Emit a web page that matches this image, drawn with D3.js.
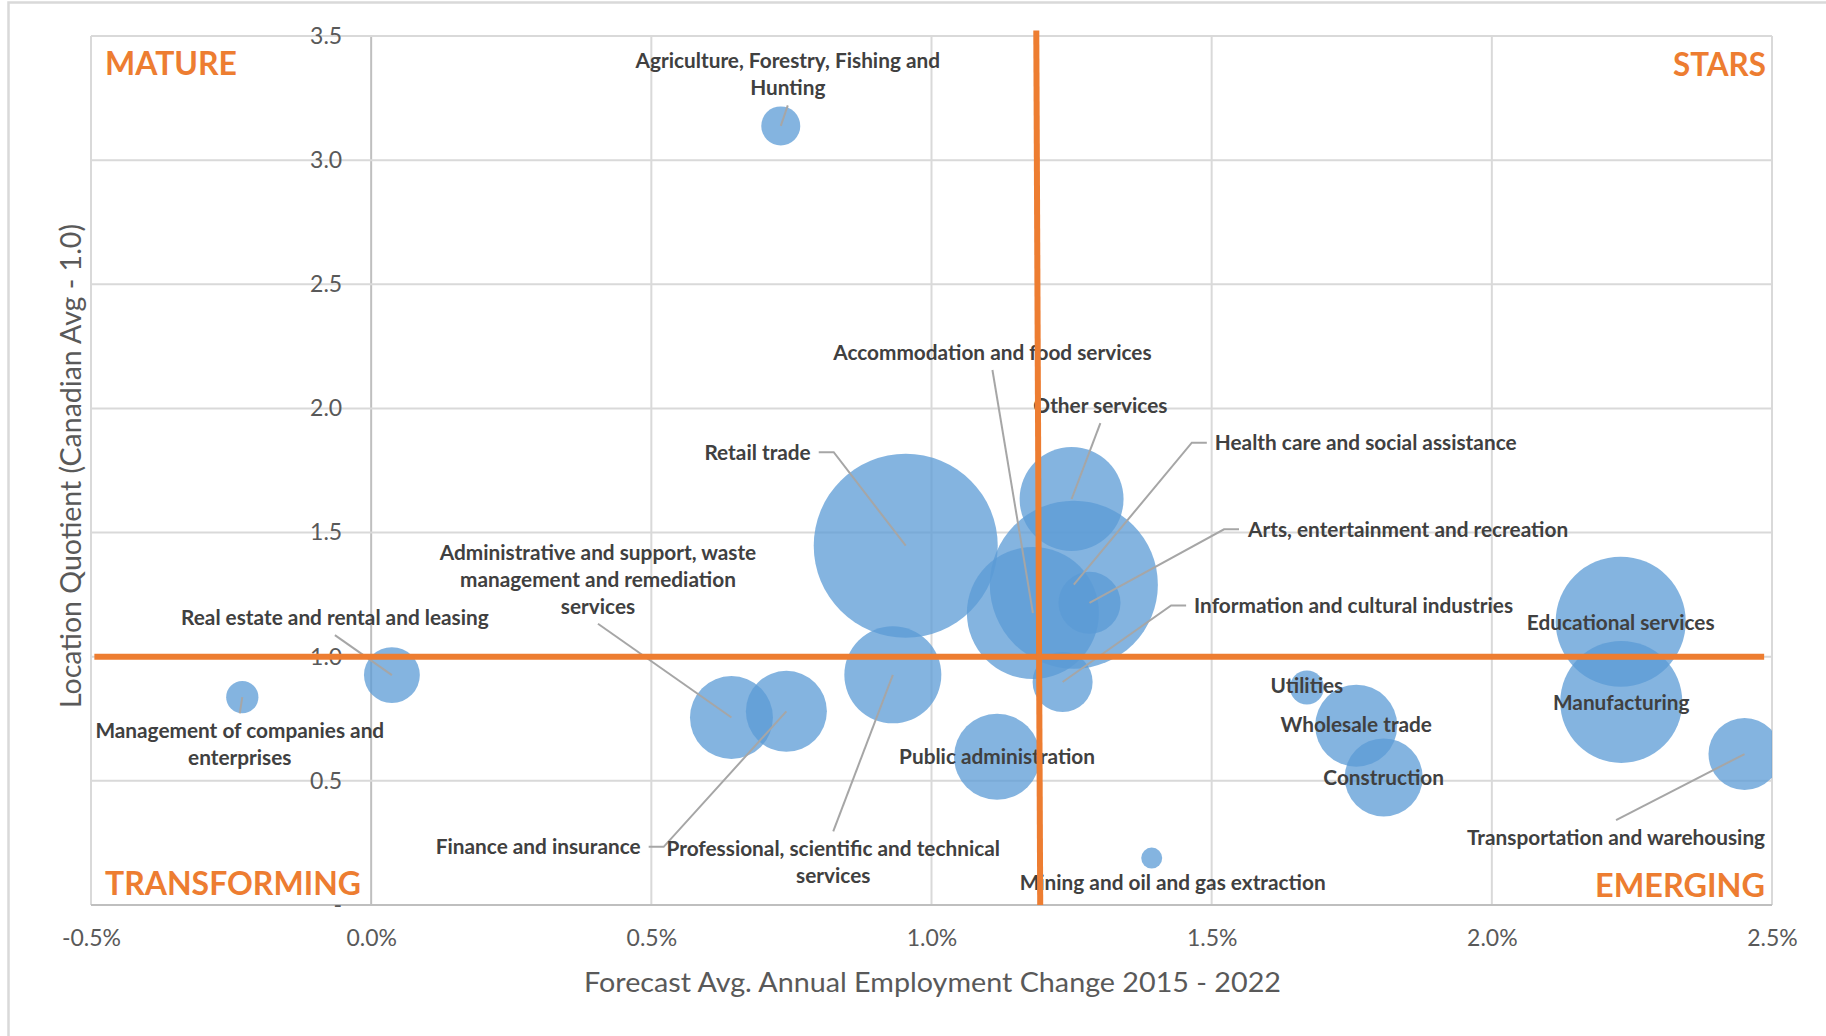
<!DOCTYPE html>
<html>
<head>
<meta charset="utf-8">
<script src="https://cdn.jsdelivr.net/npm/d3@7"></script>
<style>
  html, body { margin: 0; padding: 0; background: #ffffff; }
  svg { display: block; }
</style>
</head>
<body>
<svg id="chart" width="1826" height="1036"></svg>
<script>
// ---- Data -------------------------------------------------------------
const industries = [
  "Agriculture, Forestry, Fishing and Hunting",
  "Management of companies and enterprises",
  "Real estate and rental and leasing",
  "Retail trade",
  "Other services",
  "Health care and social assistance",
  "Accommodation and food services",
  "Arts, entertainment and recreation",
  "Information and cultural industries",
  "Professional, scientific and technical services",
  "Administrative and support, waste management and remediation services",
  "Finance and insurance",
  "Public administration",
  "Mining and oil and gas extraction",
  "Utilities",
  "Wholesale trade",
  "Construction",
  "Educational services",
  "Manufacturing",
  "Transportation and warehousing"
];
// Forecast average annual employment change 2015-2022 (%)
const employmentChange = [0.731, -0.230, 0.037, 0.954, 1.250, 1.254, 1.181, 1.282, 1.234, 0.931,
                          0.643, 0.741, 1.117, 1.393, 1.670, 1.758, 1.807, 2.230, 2.231, 2.451];
// Location quotient (Canadian average = 1.0)
const locationQuotient = [3.138, 0.837, 0.926, 1.447, 1.635, 1.290, 1.176, 1.217, 0.898, 0.927,
                          0.755, 0.780, 0.597, 0.189, 0.876, 0.722, 0.514, 1.141, 0.818, 0.608];
// Bubble size: employment (relative units)
const employment = [38, 26, 78, 846, 270, 706, 436, 96, 90, 235,
                    172, 164, 185, 11, 29, 168, 152, 423, 372, 130];

const xTickValues = [-0.5, 0, 0.5, 1.0, 1.5, 2.0, 2.5];
const yTickValues = [0, 0.5, 1.0, 1.5, 2.0, 2.5, 3.0, 3.5];

// Quadrant dividers: Canadian average LQ and average employment growth (top, bottom)
const averageLQ = 1.0;
const averageGrowth = [1.187, 1.194];

const quadrantNames = ["MATURE", "STARS", "TRANSFORMING", "EMERGING"];
const xTitle = "Forecast Avg. Annual Employment Change 2015 - 2022";
const yTitle = "Location Quotient (Canadian Avg - 1.0)";

// ---- Label layout (offsets from the bubble centre, in px) --------------
const labelLines = {
  0: ["Agriculture, Forestry, Fishing and", "Hunting"],
  1: ["Management of companies and", "enterprises"],
  9: ["Professional, scientific and technical", "services"],
  10: ["Administrative and support, waste", "management and remediation", "services"]
};
const labelLayout = [
  { dx: 7,      dy: -51.5,  anchor: "middle", leader: "bottom" },
  { dx: -2.5,   dy: 47.2,   anchor: "middle", leader: "top" },
  { dx: -57,    dy: -57.5,  anchor: "middle", leader: "bottom" },
  { dx: -95,    dy: -93.5,  anchor: "end",    leader: "right" },
  { dx: 28.8,   dy: -93.5,  anchor: "middle", leader: "bottom" },
  { dx: 141,    dy: -142,   anchor: "start",  leader: "left" },
  { dx: -40.5,  dy: -260.5, anchor: "middle", leader: "bottom" },
  { dx: 158.5,  dy: -73.5,  anchor: "start",  leader: "left" },
  { dx: 131.5,  dy: -76.5,  anchor: "start",  leader: "left" },
  { dx: -59.6,  dy: 187.5,  anchor: "middle", leader: "top" },
  { dx: -133.5, dy: -138.3, anchor: "middle", leader: "bottom" },
  { dx: -145.7, dy: 135.5,  anchor: "end",    leader: "right" },
  { dx: 0,      dy: 0,      anchor: "middle", leader: "none" },
  { dx: 21,     dy: 24.5,   anchor: "middle", leader: "none" },
  { dx: 0,      dy: -2,     anchor: "middle", leader: "none" },
  { dx: 0,      dy: -1,     anchor: "middle", leader: "none" },
  { dx: 0,      dy: 0,      anchor: "middle", leader: "none" },
  { dx: 0,      dy: 1,      anchor: "middle", leader: "none" },
  { dx: 0,      dy: 1,      anchor: "middle", leader: "none" },
  { dx: -128.5, dy: 83.5,   anchor: "middle", leader: "top" }
];

// ---- Geometry -----------------------------------------------------------
const W = 1826, H = 1036;
const plot = { left: 91, right: 1772, top: 36, bottom: 905 };

const svg = d3.select("#chart");
const x = d3.scaleLinear().domain([-0.5, 2.5]).range([plot.left, plot.right]);
const y = d3.scaleLinear().domain([0, 3.5]).range([plot.bottom, plot.top]);
const r = d3.scaleSqrt().domain([0, 846]).range([0, 92]);

const GRID = "#d9d9d9", AXIS = "#bfbfbf", TEXT = "#595959", LABEL = "#404040";
const ORANGE = "#ED7D31", BLUE = "#5B9BD5";

// number formats with a plain hyphen for negatives
const locale = d3.formatLocale({ decimal: ".", thousands: ",", grouping: [3], currency: ["$", ""], minus: "-" });
const fmt1 = locale.format(".1f");

// outer chart frame
svg.append("rect")
  .attr("x", 8.5).attr("y", 2.5).attr("width", W + 20).attr("height", H + 20)
  .attr("fill", "#ffffff").attr("stroke", GRID).attr("stroke-width", 2.5);

// gridlines
const grid = svg.append("g");
grid.selectAll("line.v").data(xTickValues).join("line")
  .attr("x1", d => x(d)).attr("x2", d => x(d))
  .attr("y1", plot.top).attr("y2", plot.bottom)
  .attr("stroke", d => d === 0 ? AXIS : GRID).attr("stroke-width", 2);
grid.selectAll("line.h").data(yTickValues).join("line")
  .attr("x1", plot.left).attr("x2", plot.right)
  .attr("y1", d => y(d)).attr("y2", d => y(d))
  .attr("stroke", d => d === 0 ? AXIS : GRID).attr("stroke-width", 2);

// axes (labels only)
const fmtY = v => v === 0 ? "-" : fmt1(v);
const yAxis = svg.append("g")
  .attr("transform", `translate(${x(0)},0)`)
  .call(d3.axisLeft(y).tickValues(yTickValues).tickSize(0).tickPadding(29).tickFormat(fmtY));
const xAxis = svg.append("g")
  .attr("transform", `translate(0,${plot.bottom})`)
  .call(d3.axisBottom(x).tickValues(xTickValues).tickSize(0).tickPadding(25)
    .tickFormat(v => fmt1(v) + "%"));
[yAxis, xAxis].forEach(a => {
  a.select(".domain").remove();
  a.selectAll("text").attr("fill", TEXT)
    .style("font-family", "Lato, 'Open Sans', sans-serif").style("font-size", "23px");
});

// axis titles
svg.append("text")
  .attr("x", (x(-0.5) + x(2.5)) / 2 + 1).attr("y", 992)
  .attr("text-anchor", "middle").attr("fill", TEXT)
  .attr("textLength", 697).attr("lengthAdjust", "spacingAndGlyphs")
  .style("font-family", "Lato, 'Open Sans', sans-serif").style("font-size", "27px")
  .text(xTitle);
svg.append("text")
  .attr("transform", `translate(81,466) rotate(-90)`)
  .attr("text-anchor", "middle").attr("fill", TEXT)
  .attr("textLength", 484).attr("lengthAdjust", "spacingAndGlyphs")
  .style("font-family", "Lato, 'Open Sans', sans-serif").style("font-size", "29px")
  .text(yTitle);

// bubbles
const points = industries.map((name, i) => ({
  name, i,
  cx: x(employmentChange[i]), cy: y(locationQuotient[i]), rr: r(employment[i])
}));

svg.append("clipPath").attr("id", "plotClip")
  .append("rect").attr("x", plot.left).attr("y", plot.top)
  .attr("width", plot.right - plot.left).attr("height", plot.bottom - plot.top);

svg.append("g").attr("clip-path", "url(#plotClip)")
  .selectAll("circle").data(points).join("circle")
  .attr("cx", d => d.cx).attr("cy", d => d.cy).attr("r", d => d.rr)
  .attr("fill", BLUE).attr("fill-opacity", 0.75);

// data labels with leader lines
const FS = 20.8, LH = 27, CAP = 0.72 * FS;
const leaders = svg.append("g");
const labels = svg.append("g")
  .style("font-family", "Lato, 'Open Sans', sans-serif")
  .style("font-size", FS + "px").style("font-weight", "bold");

points.forEach(p => {
  const L = labelLayout[p.i];
  const lines = labelLines[p.i] || [p.name];
  const lx = p.cx + L.dx, ly = p.cy + L.dy;
  const firstBase = ly - (lines.length - 1) * LH / 2 + CAP / 2;
  const t = labels.append("text")
    .attr("text-anchor", L.anchor).attr("fill", LABEL);
  lines.forEach((s, k) => {
    t.append("tspan").attr("x", lx).attr("y", firstBase + k * LH).text(s);
  });
  const lastBase = firstBase + (lines.length - 1) * LH;
  let pts = null;
  if (L.leader === "bottom") pts = [[lx, lastBase + 10], [p.cx, p.cy]];
  else if (L.leader === "top") pts = [[lx, firstBase - CAP - 10], [p.cx, p.cy]];
  else if (L.leader === "left" || L.leader === "right") {
    const bb = t.node().getBBox();
    const ex = L.leader === "left" ? bb.x - 8 : bb.x + bb.width + 8;
    const sx = L.leader === "left" ? ex - 15 : ex + 15;
    pts = [[ex, ly], [sx, ly], [p.cx, p.cy]];
  }
  if (pts) {
    leaders.append("path")
      .attr("d", d3.line()(pts))
      .attr("fill", "none").attr("stroke", "#a6a6a6").attr("stroke-width", 2);
  }
});

// quadrant names
const quadrantLayout = [
  { x: plot.left + 14,  y: plot.top + 39,     anchor: "start", width: 132 },
  { x: plot.right - 6,  y: plot.top + 40,     anchor: "end",   width: 93 },
  { x: plot.left + 14,  y: plot.bottom - 10,  anchor: "start", width: 256 },
  { x: plot.right - 7,  y: plot.bottom - 8,   anchor: "end",   width: 170 }
];
svg.append("g").selectAll("text").data(quadrantNames).join("text")
  .attr("x", (d, i) => quadrantLayout[i].x).attr("y", (d, i) => quadrantLayout[i].y)
  .attr("text-anchor", (d, i) => quadrantLayout[i].anchor)
  .attr("textLength", (d, i) => quadrantLayout[i].width)
  .attr("lengthAdjust", "spacingAndGlyphs")
  .attr("fill", ORANGE)
  .style("font-family", "Lato, 'Open Sans', sans-serif")
  .style("font-size", "32px").style("font-weight", "bold")
  .text(d => d);

// quadrant dividers drawn on top
svg.append("line")
  .attr("x1", x(-0.494)).attr("x2", x(2.486))
  .attr("y1", y(averageLQ)).attr("y2", y(averageLQ))
  .attr("stroke", ORANGE).attr("stroke-width", 6);
svg.append("line")
  .attr("x1", x(averageGrowth[0])).attr("x2", x(averageGrowth[1]))
  .attr("y1", y(3.522)).attr("y2", y(0))
  .attr("stroke", ORANGE).attr("stroke-width", 6);
</script>
</body>
</html>
